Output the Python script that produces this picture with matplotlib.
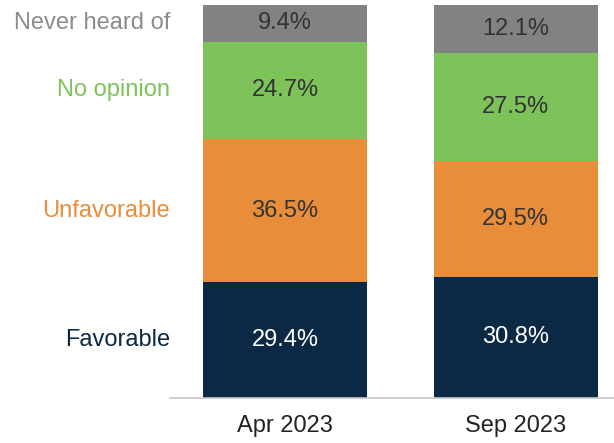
import numpy as np
import matplotlib.pyplot as plt

plt.rcParams['font.family'] = ['Liberation Sans', 'DejaVu Sans']

periods = ['Apr 2023', 'Sep 2023']
categories = ['Favorable', 'Unfavorable', 'No opinion', 'Never heard of']
favorable = [29.4, 30.8]
unfavorable = [36.5, 29.5]
no_opinion = [24.7, 27.5]
never_heard = [9.4, 12.1]

series = [favorable, unfavorable, no_opinion, never_heard]
colors = ['#0b2944', '#e88d3a', '#7dc35a', '#828282']
label_colors = ['#0b2944', '#e88d3a', '#7dc35a', '#8c8c8c']
value_colors = ['white', '#333333', '#333333', '#333333']

fig = plt.figure(figsize=(6.14, 4.43), dpi=100)
ax = fig.add_axes([170 / 614, 1 - 398 / 443, 444 / 614, 393 / 443])

x = np.arange(len(periods))
bottom = np.zeros(len(periods))
for vals, col, vcol in zip(series, colors, value_colors):
    vals = np.array(vals)
    ax.bar(x, vals, 0.711, bottom=bottom, color=col, edgecolor='none')
    for xi, b, v in zip(x, bottom, vals):
        ax.text(xi, b + v / 2, f'{v:.1f}%', ha='center', va='center',
                fontsize=17, color=vcol)
    bottom += vals

# category labels on the left, aligned with the first bar
b = 0
for vals, name, lcol in zip(series, categories, label_colors):
    ax.text(-0.499, b + vals[0] / 2, name, ha='right', va='center',
            fontsize=17, color=lcol, clip_on=False)
    b += vals[0]

ax.set_xlim(-0.499, 1.427)
ax.set_ylim(0, 100)
ax.set_xticks(x)
ax.set_xticklabels(periods, fontsize=17, color='#222222')
ax.tick_params(axis='x', length=0, pad=12)
ax.set_yticks([])
for s in ['top', 'right', 'left']:
    ax.spines[s].set_visible(False)
ax.spines['bottom'].set_color('#c8c8c8')
ax.spines['bottom'].set_linewidth(1.2)

fig.savefig('out.png', dpi=100)
